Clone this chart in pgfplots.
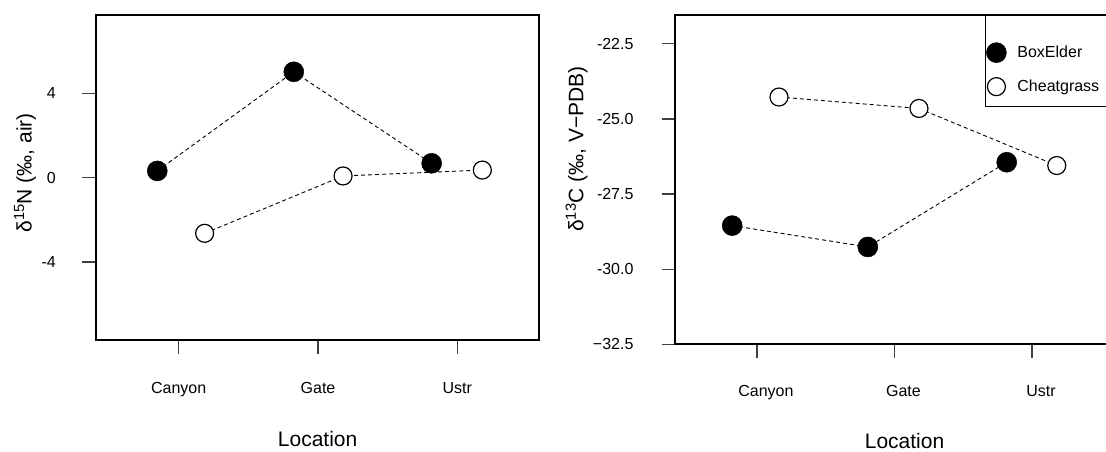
\documentclass[border=0pt]{standalone}
\usepackage{fontspec}
\setmainfont{Liberation Sans}
\usepackage{pgfplots}
\pgfplotsset{compat=1.18}

\tikzset{
  ylab/.style={anchor=east, inner sep=0pt, xshift=-40pt, font=\fontsize{16}{19}\selectfont},
}

\pgfplotsset{
  isoax/.style={
    scale only axis,
    anchor=south west,
    clip=false,
    axis line style={line width=2pt},
    xtick={1,2,3},
    xticklabels={Canyon,Gate,Ustr},
    xtick pos=bottom, ytick pos=left,
    tick align=outside,
    major tick length=13.5pt,
    every tick/.style={line width=1.3pt, black!75},
    ticklabel style={font=\fontsize{16}{19}\selectfont},
    xticklabel style={anchor=base, yshift=-39.8pt},
    yticklabel style={anchor=east},
    /pgf/number format/assume math mode=true,
  },
  boxelder/.style={black, line width=0.9pt, dash pattern=on 4pt off 3pt,
    mark=*, mark size=10pt, mark options={solid, fill=black, draw=black, line width=0.5pt}},
  cheat/.style={black, line width=0.9pt, dash pattern=on 4pt off 3pt,
    mark=*, mark size=9pt, mark options={solid, fill=white, draw=black, line width=1.2pt}},
}

\begin{document}
\begin{tikzpicture}
\path[use as bounding box] (0pt,0pt) rectangle (1106pt,451pt);
\clip (0pt,0pt) rectangle (1106pt,451pt);
\begin{pgfinterruptboundingbox}

%% left panel: d15N
\begin{axis}[isoax,
  at={(96pt,111pt)},
  width=443.3pt, height=324.7pt,
  xmin=0.406, xmax=3.589,
  ymin=-7.7, ymax=7.7,
  ytick={-4,0,4}, yticklabels={},
  xlabel={Location},
  every axis x label/.style={at={(axis description cs:0.5,-0.3286)}, anchor=base,
    inner sep=0pt, font=\fontsize{21}{25}\selectfont},
  ylabel={δ\textsuperscript{15}N (‰, air)},
  every axis y label/.style={at={(axis description cs:-0.16,0.515)}, rotate=90, anchor=center,
    font=\fontsize{21}{25}\selectfont},
]
\addplot[boxelder] coordinates {(0.846,0.32) (1.826,5.02) (2.816,0.68)};
\addplot[cheat] coordinates {(1.186,-2.64) (2.18,0.08) (3.18,0.36)};
% y tick labels, set by hand
\node[ylab] at (axis cs:0.406,4) {4};
\node[ylab] at (axis cs:0.406,0) {0};
\node[ylab] at (axis cs:0.406,-4) {-4};
\end{axis}

%% right panel: d13C
\begin{axis}[isoax,
  at={(675pt,106.7pt)},
  width=438pt, height=329.6pt,
  xmin=0.404, xmax=3.589,
  ymin=-32.5, ymax=-21.53,
  ytick={-32.5,-30,-27.5,-25,-22.5},
  yticklabels={−32.5,-30.0,-27.5,-25.0,-22.5},
  yticklabel shift=24.5pt,
  xticklabel style={xshift=9pt, yshift=1.6pt},
  xlabel={Location},
  every axis x label/.style={at={(axis description cs:0.524,-0.3155)}, anchor=base,
    inner sep=0pt, font=\fontsize{21}{25}\selectfont},
  ylabel={δ\textsuperscript{13}C (‰, V−PDB)},
  every axis y label/.style={at={(axis description cs:-0.2244,0.5925)}, rotate=90, anchor=center,
    font=\fontsize{21}{25}\selectfont},
  legend style={at={(axis cs:2.667,-22.453)}, anchor=north west, draw=none, fill=none,
    inner sep=0pt, row sep=15pt, column sep=11pt, font=\fontsize{16}{19}\selectfont,
    nodes={inner sep=0pt, anchor=west}},
  legend cell align=left,
  legend image code/.code={\draw[#1] plot coordinates {(10pt,0pt)};},
]
\addplot[boxelder] coordinates {(0.820,-28.55) (1.806,-29.26) (2.816,-26.44)};
\addplot[cheat] coordinates {(1.160,-24.27) (2.178,-24.65) (3.180,-26.55)};
\legend{BoxElder,Cheatgrass}
\draw[line width=0.8pt] (axis cs:2.659,-24.571) rectangle (axis cs:3.75,-21.53);
\end{axis}

\end{pgfinterruptboundingbox}
\end{tikzpicture}
\end{document}
